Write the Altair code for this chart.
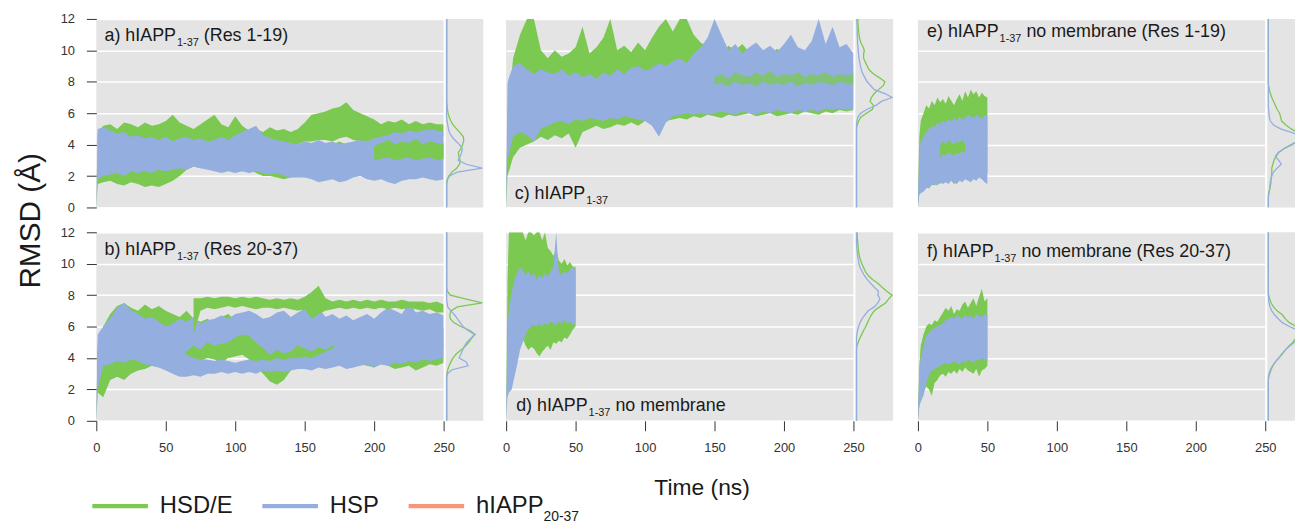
import altair as alt
import pandas as pd

FONT = "Liberation Sans, Arial, sans-serif"
NARROW = "Liberation Sans Narrow, Liberation Sans, Arial, sans-serif"
GREEN = "#7bc951"
BLUE = "#93aedf"
SALMON = "#f8947a"
BG = "#e4e4e4"
INK = "#1a1a1a"

SERIES = ["HSD/E", "HSP", "hIAPP20-37"]
COLORS = [GREEN, BLUE, SALMON]
LEG_TEXT = ["HSD/E", "HSP", "hIAPP"]
LEG_SUB = ["", "", "20-37"]

# time grids (ns)
T_LONG = [0, 1] + list(range(5, 251, 5))
T_SHORT = [0, 1] + list(range(2, 51, 2))
DENS_Y = [i * 0.25 for i in range(49)]

# ---------------- panel a : hIAPP1-37 (Res 1-19) ----------------
A_G1_LO = [0, 3.8, 4.0, 4.0, 3.9, 4.0, 4.1, 4.0, 3.9, 4.0, 4.1, 4.0, 4.2, 4.0, 4.1, 4.0, 4.0, 4.1, 4.2, 4.0, 3.9, 4.1, 4.0, 3.9, 3.8, 3.8,
           3.9, 3.8, 3.9, 3.9, 4.0, 4.2, 4.2, 4.3, 4.3, 4.2, 4.4, 4.5, 4.3, 4.2, 4.2, 4.3, 4.2, 4.3, 4.4, 4.3, 4.4, 4.5, 4.4, 4.5, 4.4, 4.5]
A_G1_HI = [0.3, 4.8, 5.2, 5.3, 5.0, 5.4, 5.3, 5.1, 5.4, 5.2, 5.3, 5.5, 5.9, 5.4, 5.2, 5.0, 5.3, 5.6, 5.9, 5.3, 5.1, 5.8, 5.2, 4.9, 5.0, 4.8,
           5.1, 4.9, 5.0, 4.8, 5.0, 5.4, 5.9, 6.0, 6.1, 6.3, 6.4, 6.7, 6.2, 6.0, 5.8, 5.6, 5.3, 5.5, 5.4, 5.6, 5.3, 5.5, 5.3, 5.4, 5.3, 5.3]
A_G2_LO = [0, 1.5, 1.6, 1.7, 1.5, 1.4, 1.6, 1.5, 1.3, 1.4, 1.3, 1.5, 1.7, 2.0, 2.4, 2.6, 2.5, 2.6, 2.5, 2.6, 2.5, 2.4, 2.3, 2.4, 2.2, 2.0,
           2.0, 1.9, 1.8, 1.9, 2.0, 2.2, 2.4, 2.6, 2.6, 2.5, 2.6, 2.7, 2.8, 2.7, 2.8, 2.9, 3.0, 3.1, 3.0, 3.1, 3.0, 3.1, 3.0, 3.2, 3.0, 3.1]
A_G2_HI = [0.2, 3.0, 3.2, 3.3, 3.0, 3.2, 3.4, 3.1, 3.0, 3.2, 3.0, 3.3, 3.4, 3.5, 3.8, 4.0, 3.9, 4.0, 3.8, 4.1, 3.9, 3.8, 3.7, 3.9, 3.6, 3.4,
           3.2, 3.0, 3.0, 3.2, 3.3, 3.5, 3.8, 4.0, 4.1, 4.0, 4.2, 4.0, 4.1, 4.0, 4.2, 4.0, 4.2, 4.4, 4.2, 4.3, 4.1, 4.4, 4.2, 4.3, 4.1, 4.2]
A_B1_LO = [0, 1.8, 2.0, 2.1, 2.2, 2.0, 2.3, 2.2, 2.3, 2.2, 2.4, 2.3, 2.4, 2.5, 2.4, 2.6, 2.5, 2.4, 2.3, 2.2, 2.3, 2.2, 2.3, 2.2, 2.3, 2.2,
           2.1, 2.2, 2.0, 1.9, 1.9, 1.9, 1.8, 1.6, 1.7, 1.8, 1.6, 1.7, 1.9, 2.0, 1.8, 1.7, 1.8, 1.6, 1.5, 1.7, 1.8, 1.8, 1.9, 1.8, 1.7, 1.8]
A_B1_HI = [0.5, 5.0, 5.1, 4.9, 4.7, 4.8, 4.5, 4.6, 4.4, 4.5, 4.3, 4.5, 4.2, 4.4, 4.5, 4.3, 4.4, 4.2, 4.3, 4.5, 4.3, 4.6, 4.8, 5.0, 5.2, 4.6,
           4.4, 4.3, 4.2, 4.1, 4.0, 4.2, 4.1, 4.3, 4.1, 4.2, 4.0, 4.1, 4.2, 4.3, 4.2, 4.4, 4.5, 4.6, 4.8, 4.7, 4.9, 4.8, 4.9, 5.0, 4.9, 4.8]
A_G3_T = [200, 205, 210, 215, 220, 225, 230, 235, 240, 245, 250]
A_G3_LO = [3.0, 3.1, 3.2, 3.0, 3.1, 3.2, 3.0, 3.1, 3.2, 3.0, 3.1]
A_G3_HI = [3.9, 4.1, 4.3, 4.0, 4.2, 4.1, 4.4, 4.0, 4.2, 4.1, 4.0]

# ---------------- panel b : hIAPP1-37 (Res 20-37) ----------------
B_G2_LO = [0, 1.8, 1.5, 2.6, 2.8, 2.6, 3.0, 3.2, 3.3, 3.5, 3.4, 3.8, 3.6, 3.8, 3.7, 3.9, 3.8, 4.0, 3.9, 3.7, 4.0, 4.1, 4.2, 3.9, 3.5, 3.0,
           2.5, 2.3, 2.6, 3.2, 3.5, 3.6, 3.7, 3.6, 3.5, 3.7, 3.6, 3.5, 3.4, 3.6, 3.5, 3.4, 3.6, 3.5, 3.3, 3.4, 3.5, 3.2, 3.4, 3.6, 3.5, 3.7]
B_G2_HI = [0.5, 4.5, 6.0, 6.8, 7.3, 7.5, 7.2, 7.0, 7.4, 7.1, 7.3, 7.0, 6.8, 6.6, 7.0, 6.5, 6.3, 6.5, 6.2, 6.6, 6.8, 6.4, 6.0, 6.3, 6.1, 5.9,
           6.2, 6.0, 6.4, 6.5, 6.8, 7.2, 7.5, 7.0, 6.6, 6.3, 6.5, 6.1, 6.3, 6.0, 6.2, 6.4, 6.0, 6.2, 6.1, 6.3, 6.0, 6.2, 6.4, 6.1, 5.9, 6.0]
B_B1_LO = [0, 2.0, 3.5, 3.6, 3.8, 3.7, 3.9, 3.8, 3.6, 3.5, 3.4, 3.2, 3.0, 2.8, 2.8, 2.9, 2.8, 3.0, 3.0, 3.1, 3.0, 3.1, 3.0, 3.1, 3.0, 3.2,
           3.1, 3.2, 3.1, 3.2, 3.3, 3.3, 3.2, 3.4, 3.3, 3.4, 3.5, 3.3, 3.4, 3.5, 3.6, 3.4, 3.6, 3.5, 3.7, 3.6, 3.8, 3.7, 3.9, 3.8, 3.9, 4.0]
B_B1_HI = [0.5, 5.0, 6.0, 6.5, 7.0, 7.4, 7.0, 6.8, 6.5, 6.3, 6.0, 5.8, 5.5, 5.0, 4.2, 4.0, 3.9, 3.9, 3.8, 3.9, 3.8, 3.7, 3.8, 3.9, 3.8, 3.9,
           3.8, 4.0, 3.9, 4.0, 4.0, 4.1, 4.0, 4.2, 4.4, 4.6, 4.8, 5.0, 5.2, 5.0, 5.3, 5.0, 5.2, 5.0, 5.3, 5.1, 5.4, 5.2, 5.3, 5.1, 5.2, 5.0]
B_B2_LO = [0, 3.0, 4.0, 4.2, 4.5, 4.3, 4.6, 4.5, 4.8, 4.6, 4.5, 4.7, 4.4, 4.6, 4.4, 4.8, 4.5, 5.0, 4.8, 4.9, 5.0, 5.3, 5.5, 5.4, 5.0, 4.6,
           4.2, 4.5, 4.3, 4.4, 4.8, 4.6, 4.4, 4.7, 4.5, 4.8, 4.6, 4.4, 4.7, 4.5, 4.9, 4.6, 4.8, 4.5, 4.7, 4.4, 4.6, 4.5, 4.7, 4.6, 4.8, 4.7]
B_B2_HI = [0.3, 5.5, 6.0, 6.5, 7.2, 7.5, 7.0, 6.8, 6.5, 6.6, 6.3, 6.0, 6.2, 6.5, 6.3, 6.6, 6.2, 6.4, 6.5, 6.7, 6.5, 6.8, 6.9, 7.0, 6.8, 6.5,
           6.6, 6.9, 7.0, 6.6, 6.9, 7.1, 6.8, 7.2, 6.6, 6.8, 6.5, 6.7, 6.4, 6.6, 6.8, 6.5, 6.9, 7.2, 7.0, 6.8, 7.5, 6.9, 7.0, 6.8, 6.9, 6.7]
B_G1_T = list(range(70, 251, 5))
B_G1_LO = [5.5, 7.0, 7.2, 7.1, 7.2, 7.3, 7.2, 7.3, 7.2, 7.1, 7.2, 7.2, 7.1, 7.2, 7.1, 7.0, 7.1, 6.5, 6.8, 7.0, 7.1, 7.2, 7.1, 7.2, 7.1,
           7.2, 7.1, 7.2, 7.1, 7.2, 7.1, 7.2, 7.1, 7.0, 7.1, 6.9, 6.9]
B_G1_HI = [7.8, 7.8, 7.9, 7.8, 7.9, 7.9, 7.8, 7.9, 7.8, 7.9, 7.8, 7.7, 7.8, 7.7, 7.8, 7.7, 7.9, 8.2, 8.6, 7.8, 7.6, 7.7, 7.6, 7.7, 7.6,
           7.7, 7.6, 7.7, 7.6, 7.6, 7.7, 7.6, 7.6, 7.6, 7.5, 7.6, 7.4]

# ---------------- panel c : hIAPP1-37 ----------------
C_G1_LO = [0, 2.0, 3.2, 3.8, 4.0, 4.2, 4.5, 4.3, 4.6, 4.4, 4.7, 3.8, 4.8, 5.0, 5.2, 5.0, 5.1, 5.3, 5.2, 5.4, 5.2, 5.5, 5.4, 5.6, 5.5, 5.6,
           5.7, 5.6, 5.8, 5.7, 5.9, 5.8, 5.7, 5.9, 5.8, 5.9, 6.0, 5.8, 5.9, 6.0, 5.8, 5.9, 6.0, 5.9, 6.1, 6.0, 5.9, 6.1, 6.0, 6.2, 6.1, 6.2]
C_G1_HI = [0.5, 6.0, 9.5, 11.0, 12.0, 12.0, 10.0, 9.5, 10.0, 9.6, 9.8, 10.2, 11.5, 9.8, 10.2, 10.8, 12.0, 10.0, 10.3, 9.9, 10.5, 10.0,
           10.8, 11.5, 12.0, 11.2, 12.0, 12.0, 11.0, 10.5, 10.2, 10.0, 9.8, 10.3, 10.0, 10.4, 9.9, 10.2, 10.0, 9.7, 10.1, 9.8, 9.5, 9.8,
           9.4, 9.6, 9.3, 9.5, 9.2, 9.4, 9.0, 9.1]
C_B1_LO = [0, 3.0, 4.5, 4.8, 4.6, 4.2, 5.0, 5.2, 5.4, 5.5, 5.3, 5.6, 5.5, 5.7, 5.6, 5.5, 5.7, 5.6, 5.8, 5.7, 5.6, 5.5, 5.2, 4.5, 5.4, 5.8,
           5.9, 6.0, 5.9, 6.0, 5.9, 6.0, 6.1, 6.0, 5.9, 6.1, 6.0, 5.9, 6.1, 6.0, 6.2, 6.1, 6.0, 6.2, 6.1, 6.2, 6.1, 6.3, 6.2, 6.3, 6.2, 6.3]
C_B1_HI = [0.5, 8.0, 9.0, 9.2, 8.8, 8.5, 8.8, 8.6, 8.5, 8.8, 8.4, 8.6, 8.3, 8.5, 8.2, 8.6, 8.4, 8.8, 8.5, 8.9, 9.0, 8.7, 8.9, 9.2, 9.0, 9.3,
           9.5, 9.2, 9.8, 10.2, 10.8, 12.0, 11.0, 10.0, 10.4, 9.8, 10.2, 10.5, 10.0, 10.3, 9.9, 10.4, 11.0, 10.2, 10.0, 10.6, 12.0, 10.4,
           11.5, 10.2, 10.4, 9.8]
C_G2_T = list(range(150, 251, 5))
C_G2_LO = [7.8, 7.9, 7.7, 8.0, 7.8, 7.9, 7.7, 8.0, 7.8, 7.9, 7.8, 8.0, 7.7, 7.9, 7.8, 8.0, 7.9, 7.8, 8.0, 7.9, 7.8]
C_G2_HI = [8.3, 8.5, 8.2, 8.6, 8.4, 8.3, 8.6, 8.4, 8.7, 8.3, 8.5, 8.4, 8.6, 8.3, 8.5, 8.4, 8.6, 8.3, 8.5, 8.4, 8.5]

# ---------------- panel d : hIAPP1-37 no membrane ----------------
D_G1_LO = [0, 3.0, 5.0, 5.5, 6.0, 5.8, 5.0, 5.2, 4.8, 4.5, 4.7, 4.6, 4.3, 4.1, 4.4, 4.6, 4.8, 4.5, 5.0, 4.9, 5.1, 5.0, 5.3, 5.2, 5.5, 5.8, 6.0]
D_G1_HI = [0.5, 9.0, 12.0, 12.0, 12.0, 12.0, 12.0, 12.0, 11.5, 12.0, 12.0, 11.8, 12.0, 12.0, 11.5, 12.0, 11.0, 10.8, 10.5, 10.9, 10.2,
           10.0, 10.3, 9.9, 10.1, 9.8, 9.8]
D_B1_LO = [0, 1.5, 1.8, 2.0, 2.8, 3.6, 4.5, 5.0, 5.5, 5.8, 6.0, 6.1, 6.0, 6.2, 6.0, 6.2, 6.1, 6.3, 6.2, 6.1, 6.3, 6.2, 6.4, 6.2, 6.3, 6.1, 6.2]
D_B1_HI = [0.5, 6.0, 7.0, 8.2, 9.0, 9.4, 9.8, 9.6, 9.3, 9.5, 9.2, 9.4, 9.0, 9.3, 9.1, 9.4, 9.2, 9.5, 9.8, 12.0, 9.4, 9.3, 9.5, 9.4, 9.6, 9.8, 9.6]

# ---------------- panel e : no membrane (Res 1-19) ----------------
E_G1_LO = [0, 1.2, 1.0, 1.1, 1.3, 1.2, 1.5, 1.4, 1.6, 1.5, 1.7, 1.6, 1.8, 1.7, 1.5, 1.6, 1.8, 1.7, 1.9, 1.8, 1.7, 1.9, 1.8, 2.0, 1.9, 2.1, 2.2]
E_G1_HI = [0.5, 4.5, 5.5, 6.0, 6.5, 6.3, 6.8, 6.5, 7.0, 6.7, 6.9, 6.6, 7.1, 6.8, 6.5, 6.9, 7.2, 6.8, 7.4, 7.0, 7.5, 7.2, 7.4, 7.0, 7.3, 7.1, 7.0]
E_B1_LO = [0, 0.8, 0.9, 1.0, 1.2, 1.3, 1.4, 1.5, 1.4, 1.6, 1.5, 1.6, 1.5, 1.7, 1.6, 1.5, 1.7, 1.6, 1.8, 1.7, 1.6, 1.8, 1.7, 1.9, 1.8, 1.6, 1.5]
E_B1_HI = [0.5, 3.5, 4.2, 4.5, 4.8, 5.0, 5.2, 5.1, 5.4, 5.3, 5.5, 5.4, 5.6, 5.5, 5.7, 5.5, 5.8, 5.6, 5.7, 5.9, 5.8, 5.7, 5.9, 5.8, 5.6, 5.9, 5.8]
E_G2_T = [16, 18, 20, 22, 24, 26, 28, 30, 32, 34]
E_G2_LO = [3.2, 3.4, 3.3, 3.5, 3.4, 3.3, 3.5, 3.4, 3.6, 3.5]
E_G2_HI = [3.9, 4.2, 4.0, 4.3, 4.1, 4.0, 4.2, 4.1, 4.3, 4.0]

# ---------------- panel f : no membrane (Res 20-37) ----------------
F_G1_LO = [0, 1.0, 1.3, 1.8, 2.2, 2.0, 1.6, 2.4, 2.6, 2.9, 3.0, 2.8, 3.1, 3.0, 3.2, 3.0, 3.3, 3.1, 3.4, 3.2, 3.1, 3.0, 3.3, 2.8, 3.2, 3.3, 3.5]
F_G1_HI = [0.5, 3.5, 4.8, 5.5, 6.0, 6.2, 6.1, 6.4, 6.3, 6.6, 6.9, 7.2, 7.0, 7.3, 6.8, 7.1, 7.0, 7.4, 7.6, 7.2, 7.5, 7.8, 7.3, 7.9, 8.4, 7.6, 7.8]
F_B1_LO = [0, 0.9, 1.2, 1.6, 2.4, 2.9, 3.2, 3.3, 3.4, 3.5, 3.6, 3.7, 3.6, 3.7, 3.8, 3.7, 3.6, 3.8, 3.7, 3.9, 3.8, 3.7, 3.9, 3.8, 4.0, 3.9, 3.8]
F_B1_HI = [0.5, 3.0, 4.0, 4.8, 5.4, 5.6, 5.8, 5.9, 6.0, 6.1, 6.2, 6.4, 6.5, 6.6, 6.5, 6.7, 6.6, 6.5, 6.8, 6.6, 6.7, 6.5, 6.8, 6.7, 6.6, 6.8, 6.7]

# ---------------- densities (normalised), listed from a starting RMSD ----------------
A_DG_FROM, A_DG = 1.75, [0.01, 0.06, 0.15, 0.28, 0.36, 0.38, 0.34, 0.33, 0.4, 0.45, 0.48, 0.47, 0.38, 0.28, 0.18, 0.12, 0.07, 0.04, 0.02, 0.01]
A_DB_FROM, A_DB = 1.75, [0.02, 0.08, 0.3, 1.0, 0.55, 0.32, 0.38, 0.42, 0.44, 0.36, 0.25, 0.15, 0.08, 0.05, 0.03, 0.01]
B_DG_FROM, B_DG = 3.0, [0.01, 0.03, 0.07, 0.12, 0.18, 0.27, 0.4, 0.52, 0.62, 0.7, 0.8, 0.65, 0.4, 0.2, 0.1, 0.09, 0.12, 0.3, 1.0, 0.55, 0.1, 0.02]
B_DB_FROM, B_DB = 3.0, [0.02, 0.15, 0.6, 0.55, 0.35, 0.4, 0.45, 0.5, 0.57, 0.68, 0.78, 0.6, 0.46, 0.38, 0.3, 0.22, 0.12, 0.03, 0.01]
C_DG_FROM, C_DG = 5.25, [0.02, 0.06, 0.12, 0.28, 0.45, 0.48, 0.38, 0.42, 0.5, 0.62, 0.75, 0.8, 0.65, 0.48, 0.36, 0.3, 0.25, 0.2, 0.2,
                         0.22, 0.18, 0.12, 0.09, 0.07, 0.06, 0.05, 0.04, 0.04]
C_DB_FROM, C_DB = 5.5, [0.01, 0.04, 0.12, 0.3, 0.55, 0.7, 1.0, 0.8, 0.5, 0.4, 0.3, 0.24, 0.18, 0.14, 0.11, 0.09, 0.07, 0.06, 0.05, 0.04,
                        0.03, 0.03, 0.02, 0.02, 0.02, 0.01, 0.01]
D_DG_FROM, D_DG = 4.75, [0.01, 0.05, 0.09, 0.15, 0.2, 0.26, 0.31, 0.36, 0.42, 0.5, 0.65, 0.82, 0.9, 1.0, 0.85, 0.72, 0.6, 0.45, 0.33,
                         0.25, 0.2, 0.15, 0.11, 0.08, 0.06, 0.05, 0.04, 0.03, 0.02, 0.02]
D_DB_FROM, D_DB = 5.5, [0.01, 0.03, 0.06, 0.1, 0.16, 0.24, 0.33, 0.5, 0.6, 0.66, 0.6, 0.62, 0.5, 0.4, 0.3, 0.22, 0.16, 0.1, 0.07, 0.05,
                        0.03, 0.02, 0.01]
E_DG_FROM, E_DG = 1.0, [0.02, 0.05, 0.07, 0.08, 0.09, 0.1, 0.1, 0.13, 0.16, 0.22, 0.3, 0.45, 0.65, 0.85, 1.0, 0.85, 0.65, 0.5, 0.38,
                        0.35, 0.32, 0.25, 0.2, 0.15, 0.1, 0.06, 0.03, 0.01]
E_DB_FROM, E_DB = 0.75, [0.01, 0.03, 0.04, 0.05, 0.07, 0.1, 0.15, 0.25, 0.37, 0.3, 0.2, 0.28, 0.45, 0.68, 0.85, 0.95, 0.7, 0.35, 0.15,
                         0.06, 0.03, 0.02, 0.01]
F_DG_FROM, F_DG = 2.75, [0.01, 0.04, 0.08, 0.13, 0.2, 0.3, 0.38, 0.48, 0.58, 0.7, 0.78, 0.85, 0.9, 0.8, 0.6, 0.48, 0.4, 0.25, 0.15,
                         0.08, 0.04, 0.01]
F_DB_FROM, F_DB = 3.0, [0.02, 0.06, 0.12, 0.2, 0.3, 0.4, 0.48, 0.6, 0.75, 0.9, 1.0, 0.85, 0.6, 0.4, 0.28, 0.18, 0.1, 0.05, 0.02, 0.01]

# panel labels
LABEL_PREFIX = ["a) hIAPP", "b) hIAPP", "c) hIAPP", "d) hIAPP", "e) hIAPP", "f) hIAPP"]
LABEL_SUB = "1-37"
LABEL_SUFFIX = ["(Res 1-19)", "(Res 20-37)", "", "no membrane", "no membrane (Res 1-19)", "no membrane (Res 20-37)"]
LABEL_T = [5.9, 5.9, 6.2, 7.2, 6.6, 6.6]
LABEL_V = [10.6, 10.55, 0.55, 0.65, 10.86, 10.44]

# ---------------------------------------------------------------------------
fill_scale = alt.Scale(domain=SERIES, range=COLORS)
stroke_scale = alt.Scale(domain=SERIES, range=COLORS)

CW = {'a': .556, 'b': .556, 'c': .5, 'd': .556, 'e': .556, 'f': .278, ')': .333, ' ': .278, 'h': .556,
      'I': .278, 'A': .667, 'P': .667, '1': .556, '-': .333, '3': .556, '7': .556, 'H': .722, 'S': .667,
      'D': .722, '/': .278, 'E': .667, '2': .556, '0': .556}


def tw(s, size):
    return sum(CW.get(ch, 0.55) for ch in s) * size


def band(t, lo, hi, series):
    assert len(t) == len(lo) == len(hi), (len(t), len(lo), len(hi))
    return pd.DataFrame({"t": t, "lo": lo, "hi": hi, "series": series})


def time_panel(bands, idx, show_x, show_y, x_title=None, y_title=None):
    if show_x:
        ax = dict(values=[0, 50, 100, 150, 200, 250], tickSize=10, tickColor="#333", labelPadding=11,
                  labelFont=NARROW, labelFontSize=13, labelColor="#333", labelFlush=False,
                  domain=False, grid=False)
        if x_title:
            ax.update(title=x_title, titleFont=FONT, titleFontSize=23, titleFontWeight="normal",
                      titleColor=INK, titleX=197, titleY=67, titleBaseline="middle", titleAlign="center")
        else:
            ax.update(title=None)
        x_axis = alt.Axis(**ax)
    else:
        x_axis = None
    if show_y:
        ay = dict(values=[0, 2, 4, 6, 8, 10, 12], tickSize=10, tickColor="#333", labelPadding=12,
                  labelFont=FONT, labelFontSize=13, labelColor="#333", domain=False, grid=True,
                  gridColor="white", gridWidth=1.5)
        if y_title:
            ay.update(title=y_title, titleFont=FONT, titleFontSize=30, titleFontWeight="normal", titleColor=INK,
                      titleAngle=270, titleX=-66, titleY=203, titleAlign="center", titleBaseline="middle")
        else:
            ay.update(title=None)
        y_axis = alt.Axis(**ay)
    else:
        y_axis = alt.Axis(values=[0, 2, 4, 6, 8, 10, 12], labels=False, ticks=False, domain=False, grid=True,
                          gridColor="white", gridWidth=1.5, title=None)
    X = alt.X("t:Q", scale=alt.Scale(domain=[0, 250], nice=False, zero=False), axis=x_axis)
    Y = alt.Y("lo:Q", scale=alt.Scale(domain=[0, 12], nice=False, zero=False), axis=y_axis)
    layers = []
    for df, op in bands:
        layers.append(alt.Chart(df).mark_area(clip=True, opacity=op, interpolate="linear").encode(
            x=X, y=Y, y2="hi:Q", fill=alt.Fill("series:N", scale=fill_scale, legend=None)))
    lab = pd.DataFrame({"t": [LABEL_T[idx]], "lo": [LABEL_V[idx]]})
    prefix, suffix = LABEL_PREFIX[idx], LABEL_SUFFIX[idx]
    dx_sub = tw(prefix, 18) + 1
    dx_suf = dx_sub + tw(LABEL_SUB, 11) + tw(" ", 18)
    layers.append(alt.Chart(lab).mark_text(align="left", baseline="alphabetic", font=FONT, fontSize=18,
                                           color=INK, text=prefix).encode(x=X, y=Y))
    layers.append(alt.Chart(lab).mark_text(align="left", baseline="alphabetic", font=FONT, fontSize=11,
                                           color=INK, dx=dx_sub, dy=5, text=LABEL_SUB).encode(x=X, y=Y))
    if suffix:
        layers.append(alt.Chart(lab).mark_text(align="left", baseline="alphabetic", font=FONT, fontSize=18,
                                               color=INK, dx=dx_suf, text=suffix).encode(x=X, y=Y))
    return alt.layer(*layers).properties(width=350, height=190)


def full(start, vals):
    arr = [0.0] * len(DENS_Y)
    i0 = int(round(start / 0.25))
    for k, v in enumerate(vals):
        arr[i0 + k] = v
    return arr


def dens_panel(g_from, g_vals, b_from, b_vals, width):
    dmax = 1.03 * width / 38.0
    X = alt.X("d:Q", scale=alt.Scale(domain=[-0.03, dmax], nice=False, zero=False), axis=None)
    Y = alt.Y("y:Q", scale=alt.Scale(domain=[0, 12], nice=False, zero=False), axis=None)
    layers = []
    for series, start, vals in [(SERIES[0], g_from, g_vals), (SERIES[1], b_from, b_vals)]:
        df = pd.DataFrame({"y": DENS_Y, "d": full(start, vals), "series": series})
        layers.append(alt.Chart(df).mark_line(strokeWidth=1.3, clip=True).encode(
            x=X, y=Y, order=alt.Order("y:Q"),
            stroke=alt.Stroke("series:N", scale=stroke_scale, legend=None)))
    return alt.layer(*layers).properties(width=width, height=190)


CLEAR_VIEW = alt.ViewBackground(fill="white", fillOpacity=0, strokeWidth=0)


def spacer(width):
    return alt.Chart(pd.DataFrame({"s": [0]})).mark_point(opacity=0).encode(
        x=alt.X("s:Q", axis=None), y=alt.Y("s:Q", axis=None)
    ).properties(width=width, height=190, view=CLEAR_VIEW)


def legend_chart():
    # key laid out like a horizontal legend: symbol (56 px), gap, label, column gap
    sym_len, gap, col_gap, fs = 56, 12, 30, 24
    x0, x1, xl, xs = [], [], [], []
    pos = -4.0
    for txt, sub in zip(LEG_TEXT, LEG_SUB):
        x0.append(pos)
        x1.append(pos + sym_len)
        xl.append(pos + sym_len + gap)
        xs.append(pos + sym_len + gap + tw(txt, fs))
        pos = pos + sym_len + gap + tw(txt, fs) + (tw(sub, 14) if sub else 0) + col_gap
    df = pd.DataFrame({"series": SERIES, "label": LEG_TEXT, "sub": LEG_SUB, "x0": x0, "x1": x1,
                       "xl": xl, "xs": xs, "row": [0, 0, 0]})
    xsc = alt.Scale(domain=[0, 350], nice=False, zero=False)
    ysc = alt.Scale(domain=[0, 1], nice=False, zero=False)
    rules = alt.Chart(df).mark_rule(strokeWidth=4.5).encode(
        x=alt.X("x0:Q", scale=xsc, axis=None), x2="x1:Q", y=alt.Y("row:Q", scale=ysc, axis=None),
        stroke=alt.Stroke("series:N", scale=stroke_scale, legend=None))
    labels = alt.Chart(df).mark_text(align="left", baseline="middle", font=FONT, fontSize=fs, color=INK).encode(
        x=alt.X("xl:Q", scale=xsc, axis=None), y=alt.Y("row:Q", scale=ysc, axis=None), text="label:N")
    subs = alt.Chart(df).mark_text(align="left", baseline="middle", font=FONT, fontSize=14, color=INK, dy=11).encode(
        x=alt.X("xs:Q", scale=xsc, axis=None), y=alt.Y("row:Q", scale=ysc, axis=None), text="sub:N")
    return alt.layer(rules, labels, subs).properties(width=350, height=61, view=CLEAR_VIEW)


pa = time_panel([(band(T_LONG, A_G1_LO, A_G1_HI, SERIES[0]), 1), (band(T_LONG, A_G2_LO, A_G2_HI, SERIES[0]), 1),
                 (band(T_LONG, A_B1_LO, A_B1_HI, SERIES[1]), 1), (band(A_G3_T, A_G3_LO, A_G3_HI, SERIES[0]), 1)],
                0, False, True, y_title="RMSD (Å)")
pb = time_panel([(band(T_LONG, B_G2_LO, B_G2_HI, SERIES[0]), 1), (band(T_LONG, B_B1_LO, B_B1_HI, SERIES[1]), 1),
                 (band(T_LONG, B_B2_LO, B_B2_HI, SERIES[1]), 1), (band(B_G1_T, B_G1_LO, B_G1_HI, SERIES[0]), 1)],
                1, True, True)
pc = time_panel([(band(T_LONG, C_G1_LO, C_G1_HI, SERIES[0]), 1), (band(T_LONG, C_B1_LO, C_B1_HI, SERIES[1]), 1),
                 (band(C_G2_T, C_G2_LO, C_G2_HI, SERIES[0]), 0.75)],
                2, False, False)
pd_ = time_panel([(band(T_SHORT, D_G1_LO, D_G1_HI, SERIES[0]), 1), (band(T_SHORT, D_B1_LO, D_B1_HI, SERIES[1]), 1)],
                 3, True, False, x_title="Time (ns)")
pe = time_panel([(band(T_SHORT, E_G1_LO, E_G1_HI, SERIES[0]), 1), (band(T_SHORT, E_B1_LO, E_B1_HI, SERIES[1]), 1),
                 (band(E_G2_T, E_G2_LO, E_G2_HI, SERIES[0]), 1)],
                4, False, False)
pf = time_panel([(band(T_SHORT, F_G1_LO, F_G1_HI, SERIES[0]), 1), (band(T_SHORT, F_B1_LO, F_B1_HI, SERIES[1]), 1)],
                5, True, False)

da = dens_panel(A_DG_FROM, A_DG, A_DB_FROM, A_DB, 38)
db = dens_panel(B_DG_FROM, B_DG, B_DB_FROM, B_DB, 38)
dc = dens_panel(C_DG_FROM, C_DG, C_DB_FROM, C_DB, 38)
dd = dens_panel(D_DG_FROM, D_DG, D_DB_FROM, D_DB, 38)
de = dens_panel(E_DG_FROM, E_DG, E_DB_FROM, E_DB, 28)
df_ = dens_panel(F_DG_FROM, F_DG, F_DB_FROM, F_DB, 28)

cells = [pa, da, spacer(19), pc, dc, spacer(21), pe, de,
         pb, db, spacer(19), pd_, dd, spacer(21), pf, df_,
         legend_chart()]

chart = alt.concat(*cells, columns=8, spacing={"row": 25, "column": 2}, bounds="flush").properties(
    padding={"left": 8, "top": 3, "right": 0, "bottom": 0},
).configure(font=FONT).configure_view(strokeWidth=0, fill=BG)

chart.save("out.html", embed_options={"renderer": "svg", "actions": False})
